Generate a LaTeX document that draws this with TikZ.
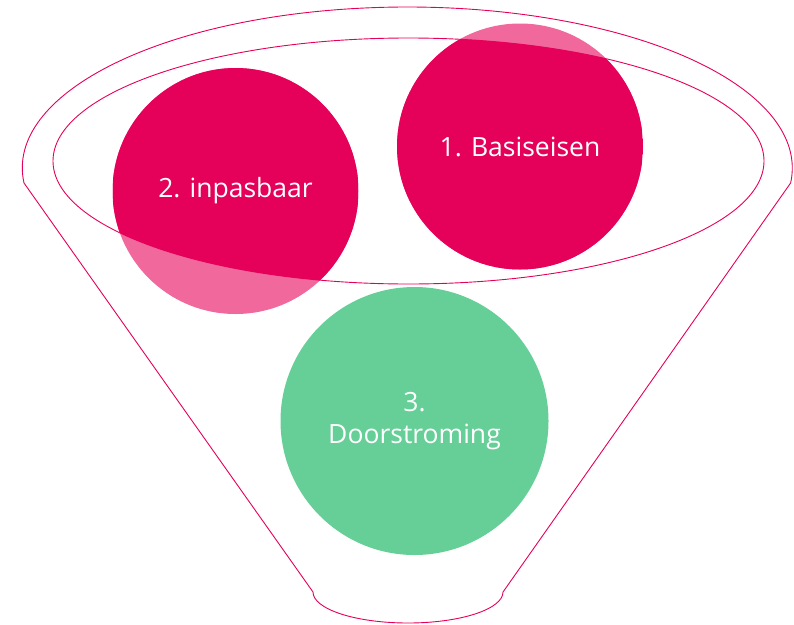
\documentclass[tikz,border=0pt]{standalone}
\usepackage{fontspec}
\setmainfont{Open Sans}
\usepackage{tikz}

\definecolor{rose}{RGB}{229,0,90}
\definecolor{roselight}{RGB}{240,104,156}
\definecolor{mint}{RGB}{102,207,151}

\tikzset{
  bubble/.style={circle, inner sep=0pt, minimum size=246pt, text=white,
    font=\fontsize{26.5}{32}\selectfont, align=center},
  rim/.style={draw=rose, line width=0.9pt},
  inrim/.style={path picture={
      \clip (ring) ellipse [x radius=355.5, y radius=123];
      \fill[rose] (path picture bounding box.south west) rectangle (path picture bounding box.north east);}}
}

\begin{document}
\begin{tikzpicture}[x=1pt,y=-1pt]
  \useasboundingbox (0,0) rectangle (794,624);
  \coordinate (ring) at (408.5,161);
  % funnel
  \draw[rim] (313,592) -- (24,183)
      arc[start angle=174.65, end angle=365.35, x radius=385, y radius=161]
      -- (503,592) arc[start angle=0, end angle=180, x radius=95, y radius=31] -- cycle;
  % circles
  \node[bubble, fill=mint, minimum size=268pt] (door) at (414.5,421) {3.\\Doorstroming};
  \node[bubble, fill=roselight, inrim] (inpas) at (235.5,191) {2. inpasbaar};
  \node[bubble, fill=roselight, inrim] (basis) at (520,146.5) {1. Basiseisen};
  % inner ring
  \draw[rim] (ring) ellipse [x radius=355.5, y radius=123];
\end{tikzpicture}
\end{document}
